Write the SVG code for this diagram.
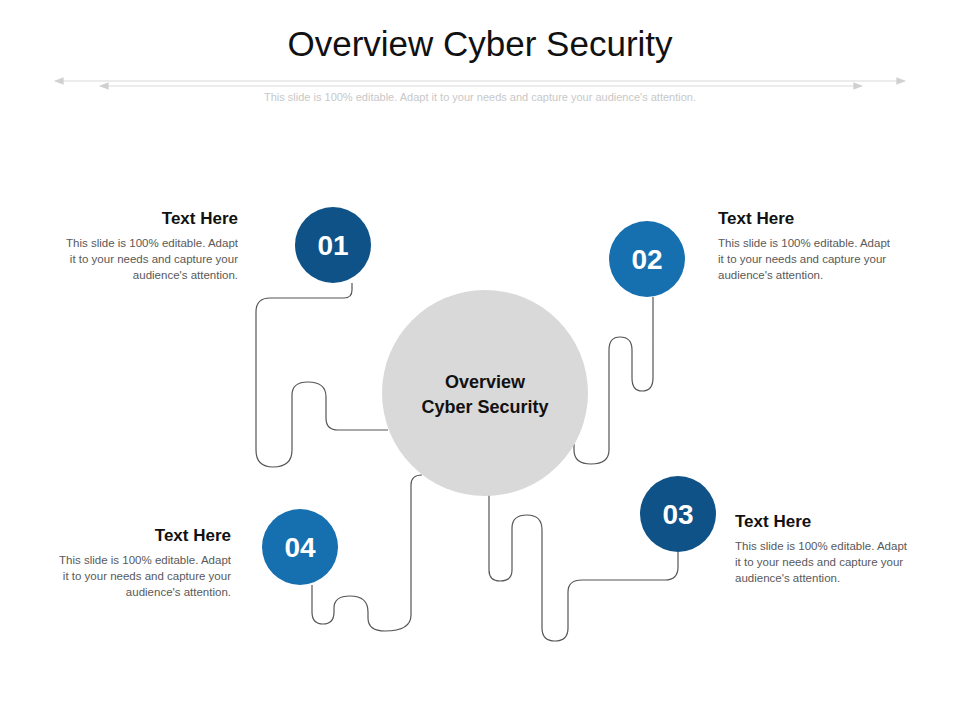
<svg xmlns="http://www.w3.org/2000/svg" width="960" height="720" viewBox="0 0 960 720">
<style>
.t{font-family:"Liberation Sans",Arial,sans-serif}
.h{font-size:17px;font-weight:bold;fill:#111}
.b{font-size:11.5px;fill:#595959}
.n{font-size:28px;font-weight:bold;fill:#fff;text-anchor:middle}
.w{fill:none;stroke:#555;stroke-width:1.2}
.g{stroke:#d9d9d9;stroke-width:1.2;fill:none}
</style>
<defs><marker id="a" viewBox="0 0 10 10" refX="9" refY="5" markerWidth="8" markerHeight="8" orient="auto-start-reverse"><path d="M0,1 L10,5 L0,9 Z" fill="#d0d0d0"/></marker></defs>
<rect width="960" height="720" fill="#fff"/>
<text class="t" x="480" y="56" font-size="35" text-anchor="middle" fill="#111">Overview Cyber Security</text>
<line class="g" x1="55" y1="81" x2="905" y2="81" marker-start="url(#a)" marker-end="url(#a)"/>
<line class="g" x1="100" y1="86" x2="862" y2="86" marker-start="url(#a)" marker-end="url(#a)"/>
<text class="t" x="480" y="101" font-size="11" fill="#c8c8c8" text-anchor="middle">This slide is 100% editable. Adapt it to your needs and capture your audience's attention.</text>
<g id="connectors">
<path class="w" d="M352,283 V290 Q352,298 344,298 H270 Q256,298 256,312 V450 Q256,467 273,467 Q292,467 292,450 V395 Q292,382 308,382 Q326,382 326,397 V418 Q326,430 338,430 H388"/>
<path class="w" d="M653,297 V378 Q653,391 642,391 Q632,391 632,378 V350 Q632,337 620,337 Q609,337 609,350 V450 Q609,464 591,464 Q574,464 574,450 V444"/>
<path class="w" d="M312,585 V612 Q312,624 323,624 Q334,624 334,612 V608 Q334,596 350,596 Q368,596 368,612 V618 Q368,631 385,631 Q411,631 411,615 V485 Q411,475 422,475"/>
<path class="w" d="M489,495 V570 Q489,581 500,581 Q512,581 512,570 V528 Q512,515 527,515 Q542,515 542,530 V628 Q542,641 555,641 Q568,641 568,628 V592 Q568,580 582,580 H665 Q678,580 678,567 V552"/>
</g>
<g id="center"><circle cx="485" cy="393" r="103" fill="#d9d9d9"/>
<text class="t" x="485" y="388" font-size="18" font-weight="bold" text-anchor="middle" fill="#111">Overview</text>
<text class="t" x="485" y="413" font-size="18" font-weight="bold" text-anchor="middle" fill="#111">Cyber Security</text></g>
<g id="n01"><circle cx="333" cy="245" r="38" fill="#0e5287"/><text class="t n" x="333" y="255">01</text>
<g class="t" text-anchor="end"><text class="h" x="238" y="224">Text Here</text>
<text class="b" x="238" y="247">This slide is 100% editable. Adapt</text><text class="b" x="238" y="263">it to your needs and capture your</text><text class="b" x="238" y="279">audience's attention.</text></g></g>
<g id="n02"><circle cx="647" cy="259" r="38" fill="#166fae"/><text class="t n" x="647" y="269">02</text>
<g class="t"><text class="h" x="718" y="224">Text Here</text>
<text class="b" x="718" y="247">This slide is 100% editable. Adapt</text><text class="b" x="718" y="263">it to your needs and capture your</text><text class="b" x="718" y="279">audience's attention.</text></g></g>
<g id="n03"><circle cx="678" cy="514" r="38" fill="#0e5287"/><text class="t n" x="678" y="524">03</text>
<g class="t"><text class="h" x="735" y="527">Text Here</text>
<text class="b" x="735" y="550">This slide is 100% editable. Adapt</text><text class="b" x="735" y="566">it to your needs and capture your</text><text class="b" x="735" y="582">audience's attention.</text></g></g>
<g id="n04"><circle cx="300" cy="547" r="38" fill="#166fae"/><text class="t n" x="300" y="557">04</text>
<g class="t" text-anchor="end"><text class="h" x="231" y="541">Text Here</text>
<text class="b" x="231" y="564">This slide is 100% editable. Adapt</text><text class="b" x="231" y="580">it to your needs and capture your</text><text class="b" x="231" y="596">audience's attention.</text></g></g>
</svg>
